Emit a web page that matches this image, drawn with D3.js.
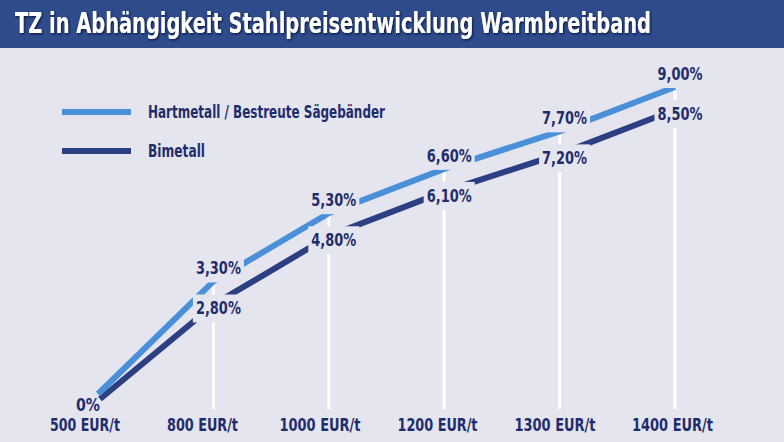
<!DOCTYPE html>
<html>
<head>
<meta charset="utf-8">
<script src="https://cdn.jsdelivr.net/npm/d3@7"></script>
<style>
  html, body { margin: 0; padding: 0; background: #e5e5ef; }
  svg { display: block; }
  text { font-family: "Liberation Sans Narrow", "DejaVu Sans Condensed", "Arial Narrow", sans-serif; font-weight: bold; }
</style>
</head>
<body>
<svg id="chart" width="784" height="442"></svg>
<script>
const title = "TZ in Abhängigkeit Stahlpreisentwicklung Warmbreitband";
const categories = ["500 EUR/t", "800 EUR/t", "1000 EUR/t", "1200 EUR/t", "1300 EUR/t", "1400 EUR/t"];
const seriesNames = ["Hartmetall / Bestreute Sägebänder", "Bimetall"];
const hartmetall = [0, 3.3, 5.3, 6.6, 7.7, 9.0];
const bimetall = [0, 2.8, 4.8, 6.1, 7.2, 8.5];
const colors = ["#4a90d9", "#2c3f82"];
const textColor = "#1f2d6d";
const bg = "#e5e5ef";

const svg = d3.select("#chart");
const W = 784, H = 442;

const defs = svg.append("defs");
const f = defs.append("filter").attr("id", "shadow").attr("x", "-5%").attr("y", "-30%").attr("width", "110%").attr("height", "160%");
f.append("feDropShadow").attr("dx", 1).attr("dy", 1).attr("stdDeviation", 0.8)
  .attr("flood-color", "#0b163d").attr("flood-opacity", 1);

svg.append("rect").attr("width", W).attr("height", H).attr("fill", bg);
// header
svg.append("rect").attr("x", 0).attr("y", 0).attr("width", W).attr("height", 48).attr("fill", "#2e4b8b");
svg.append("g").attr("transform", "translate(15,33) scale(1,1.2)")
  .append("text").attr("x", 0).attr("y", 0)
  .attr("font-size", 23).attr("fill", "#ffffff")
  .attr("filter", "url(#shadow)")
  .attr("textLength", 636).attr("lengthAdjust", "spacingAndGlyphs")
  .text(title);

const x = d3.scalePoint().domain(categories).range([98, 675]);
const xLabel = d3.scalePoint().domain(categories).range([85, 672.5]);
const y = d3.scaleLinear().domain([0, 9]).range([394, 87]);
const baseY = 409;
const darkOffset = 5;

const fmt = v => v === 0 ? "0%" : d3.format(".2f")(v).replace(".", ",") + "%";

const light = categories.map((c, i) => ({c, v: hartmetall[i]}));
const dark = categories.map((c, i) => ({c, v: bimetall[i]}));

// vertical white lines
svg.append("g").selectAll("line").data(light.slice(1)).join("line")
  .attr("x1", d => x(d.c)).attr("x2", d => x(d.c))
  .attr("y1", d => y(d.v)).attr("y2", baseY)
  .attr("stroke", "#ffffff").attr("stroke-width", 3);

const lineL = d3.line().x(d => x(d.c)).y(d => y(d.v));
const lineD = d3.line().x(d => x(d.c) + 2).y(d => y(d.v) + darkOffset);

svg.append("path").datum(dark).attr("d", lineD)
  .attr("fill", "none").attr("stroke", colors[1]).attr("stroke-width", 6)
  .attr("stroke-linejoin", "miter");
svg.append("path").datum(light).attr("d", lineL)
  .attr("fill", "none").attr("stroke", colors[0]).attr("stroke-width", 6)
  .attr("stroke-linejoin", "miter");

// value labels with background boxes
function addLabel(cx, cy, str, box, len) {
  const g = svg.append("g");
  const t = g.append("text").attr("x", cx).attr("y", cy)
    .attr("text-anchor", "middle").attr("dominant-baseline", "central")
    .attr("font-size", 17).attr("fill", textColor)
    .attr("textLength", len).attr("lengthAdjust", "spacingAndGlyphs").text(str);
  if (box) {
    g.insert("rect", "text").attr("x", cx - len / 2 - 3).attr("y", cy - 14)
      .attr("width", len + 6).attr("height", 28).attr("fill", bg);
  }
}
light.forEach((d, i) => {
  if (i === 0) return;
  addLabel(x(d.c) + 5, y(d.v) - 13, fmt(d.v), true, 45);
});
dark.forEach((d, i) => {
  if (i === 0) return;
  addLabel(x(d.c) + 5, y(d.v) + darkOffset + 5, fmt(d.v), true, 45);
});
addLabel(x(categories[0]) - 10, 405, fmt(hartmetall[0]), false, 24);

// category labels
const catWidths = [70, 71, 81, 80, 81, 81];
svg.append("g").selectAll("text").data(categories).join("text")
  .attr("x", d => xLabel(d)).attr("y", 431)
  .attr("text-anchor", "middle").attr("font-size", 17).attr("fill", textColor)
  .attr("textLength", (d, i) => catWidths[i]).attr("lengthAdjust", "spacingAndGlyphs")
  .text(d => d);

// legend
const legWidths = [237, 57];
const leg = svg.append("g");
[0, 1].forEach(i => {
  const ly = 112 + i * 39;
  leg.append("line").attr("x1", 62).attr("x2", 131).attr("y1", ly).attr("y2", ly)
    .attr("stroke", colors[i]).attr("stroke-width", 6);
  leg.append("text").attr("x", 148).attr("y", ly).attr("dominant-baseline", "central")
    .attr("font-size", 17).attr("fill", textColor)
    .attr("textLength", legWidths[i]).attr("lengthAdjust", "spacingAndGlyphs")
    .text(seriesNames[i]);
});
</script>
</body>
</html>
